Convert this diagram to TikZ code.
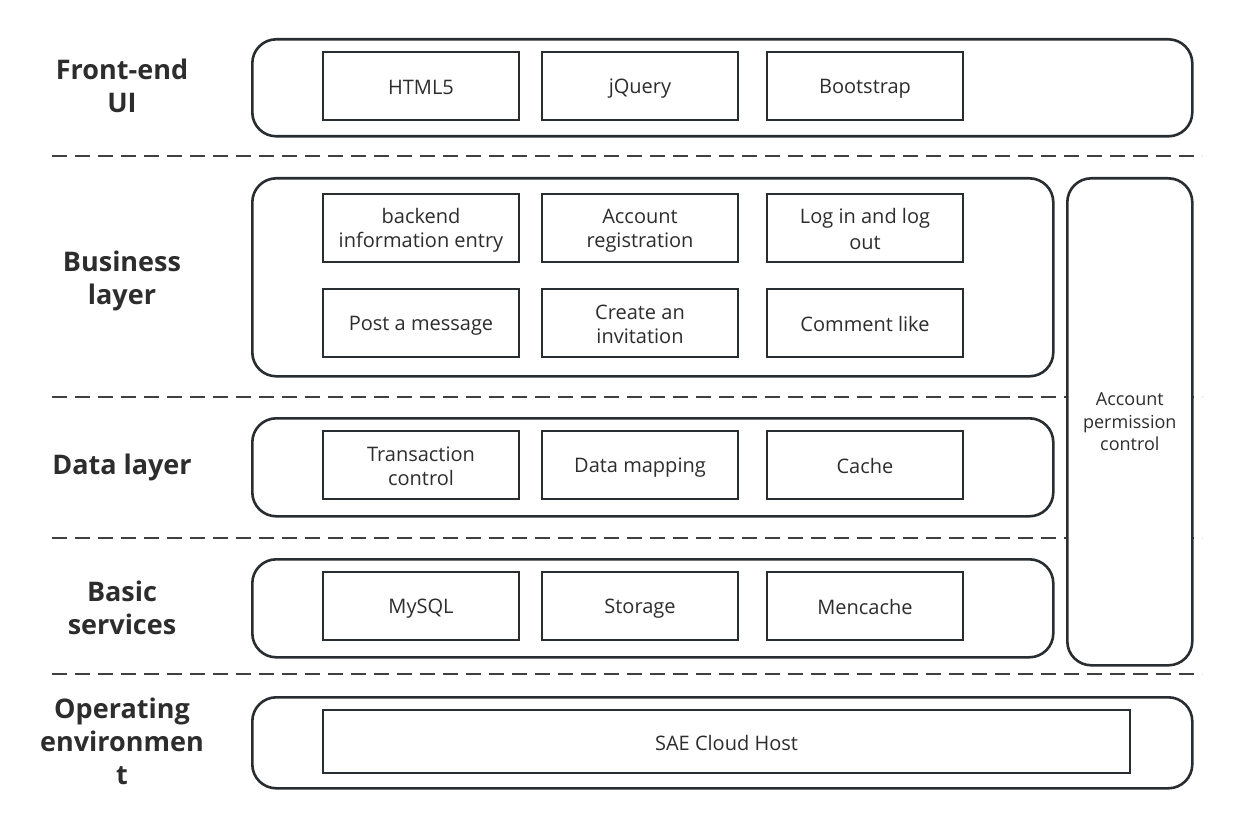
\documentclass[tikz,border=0pt]{standalone}
\usepackage{fontspec}
\setmainfont{Open Sans}
\definecolor{boxc}{RGB}{40,45,50}
\definecolor{dashc}{RGB}{64,64,64}
\definecolor{txt}{RGB}{45,45,45}
\newcommand{\mystrut}{\rule[-3.5pt]{0pt}{24pt}}
\tikzset{
  layer/.style={draw=boxc, line width=2.6pt, rounded corners=24pt, fill=white, anchor=north west, inner sep=0pt},
  item/.style={draw=boxc, line width=2.2pt, fill=white, minimum width=196pt, minimum height=68pt, align=center, font=\fontsize{20}{24}\selectfont, text=txt, inner sep=0pt},
  lbl/.style={font=\fontsize{27}{33}\selectfont\bfseries, align=center, text=txt},
  sep/.style={draw=dashc, line width=2.6pt, dash pattern=on 15pt off 8pt}
}
\begin{document}
\begin{tikzpicture}[x=1pt,y=-1pt]
\useasboundingbox (0,0) rectangle (1240,829);
% separators
\foreach \yy/\nm in {156/a,397/b,538/c,674/d}{
  \coordinate (s\nm l) at (52,\yy);
  \coordinate (s\nm r) at (1202,\yy);
  \draw[sep] (s\nm l) -- (s\nm r);
}
% layers
\node[layer, minimum width=940pt, minimum height=97pt] (front) at (251,38) {};
\node[layer, minimum width=801pt, minimum height=198pt] (bus) at (251,177) {};
\node[layer, minimum width=801pt, minimum height=98pt] (data) at (251,417) {};
\node[layer, minimum width=801pt, minimum height=98pt] (basic) at (251,558) {};
\node[layer, minimum width=940pt, minimum height=91pt] (oper) at (251,696) {};
\node[layer, minimum width=125pt, minimum height=487pt] (acct) at (1066,177) {};
\node[font=\fontsize{18}{22.5}\selectfont, text=txt, align=center] (accttxt) at (acct.center) {Account\\permission\\control};
% labels
\node[lbl] (l1) at (122,86) {Front-end\\UI};
\node[lbl] (l2) at (122,281) {Business\\layer};
\node[lbl] (l3) at (122,467) {Data layer};
\node[lbl] (l4) at (122,608) {Basic\\services};
\node[lbl] (l5) at (122,741) {Operating\\environmen\\t};
% items
\node[item] (html) at (421,86) {\mystrut HTML5};
\node[item] (jq) at (640,86) {\mystrut jQuery};
\node[item] (bs) at (865,86) {\mystrut Bootstrap};
\node[item] (be) at (421,228) {\mystrut backend\\\mystrut information entry};
\node[item] (ar) at (640,228) {\mystrut Account\\\mystrut registration};
\node[item] (lg) at (865,228) {\mystrut Log in and log\\\mystrut out};
\node[item] (pm) at (421,323) {\mystrut Post a message};
\node[item] (ci) at (640,323) {\mystrut Create an\\\mystrut invitation};
\node[item] (cl) at (865,323) {\mystrut Comment like};
\node[item] (tc) at (421,465) {\mystrut Transaction\\\mystrut control};
\node[item] (dm) at (640,465) {\mystrut Data mapping};
\node[item] (ca) at (865,465) {\mystrut Cache};
\node[item] (my) at (421,606) {\mystrut MySQL};
\node[item] (st) at (640,606) {\mystrut Storage};
\node[item] (me) at (865,606) {\mystrut Mencache};
\node[item, minimum width=807pt, minimum height=63pt] (sae) at (726.5,741.5) {\mystrut SAE Cloud Host};
\end{tikzpicture}
\end{document}
